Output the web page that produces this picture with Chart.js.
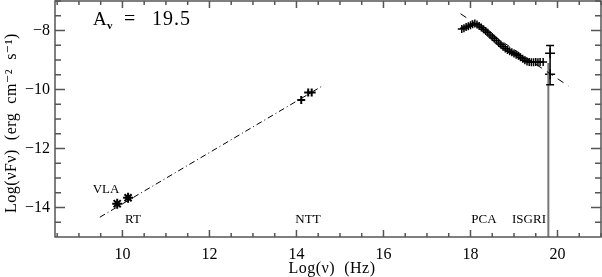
<!DOCTYPE html>
<html>
<head>
<meta charset="utf-8">
<script src="https://cdn.jsdelivr.net/npm/chart.js@4.4.1/dist/chart.umd.min.js"></script>
<style>
  html, body { margin: 0; padding: 0; background: #fff; }
  #wrap { width: 602px; height: 277px; }
</style>
</head>
<body>
<div id="wrap"><canvas id="sedChart"></canvas></div>
<script>
// tick labels
const xTicks = [10, 12, 14, 16, 18, 20];
const yTicks = [-14, -12, -10, -8];

// radio (VLA / RT)
const radioX = [9.88, 10.13];
const radioY = [-13.87, -13.67];

// infrared (NTT)
const nttX = [14.11, 14.27, 14.35];
const nttY = [-10.36, -10.10, -10.10];

// X-ray (PCA)
const pcaX = [17.80, 17.85, 17.90, 17.95, 18.00, 18.05, 18.10, 18.15, 18.20, 18.25,
              18.30, 18.35, 18.40, 18.45, 18.50, 18.55, 18.60, 18.65, 18.70, 18.75,
              18.80, 18.85, 18.90, 18.95, 19.00, 19.05, 19.10, 19.15, 19.20, 19.25,
              19.30, 19.35, 19.40, 19.45, 19.50, 19.55, 19.60, 19.67];
const pcaY = [-7.95, -7.92, -7.88, -7.86, -7.82, -7.79, -7.76, -7.80, -7.85, -7.90,
              -7.96, -8.02, -8.08, -8.15, -8.22, -8.28, -8.35, -8.42, -8.48, -8.55,
              -8.61, -8.66, -8.70, -8.74, -8.78, -8.82, -8.86, -8.91, -8.96, -9.01,
              -9.05, -9.07, -9.08, -9.08, -9.07, -9.08, -9.07, -9.07];

// gamma (ISGRI) with error bars
const isgriX = [19.83, 19.83];
const isgriY = [-8.77, -9.48];
const isgriHi = [-8.51, null];
const isgriLo = [-9.84, null];

// ISGRI limit bar (gray)
const limitX = [19.79, 19.79];
const limitY = [-9.10, -15];

// power-law fits
const radioFitX = [9.48, 14.63];
const radioFitY = [-14.33, -9.85];
const xrayFitX = [17.77, 20.26];
const xrayFitY = [-7.43, -9.89];

const pts = (xs, ys) => xs.map((x, i) => ({ x, y: ys[i] }));
const serif = "'Liberation Serif', 'DejaVu Serif', serif";

const sedDecor = {
    id: "sedDecor",
    afterDatasetsDraw(chart) {
        const { ctx, scales: { x, y } } = chart;
        ctx.save();
        ctx.strokeStyle = "#000";
        ctx.lineWidth = 1.5;
        isgriX.forEach((v, i) => {
            if (isgriHi[i] == null) return;
            const px = x.getPixelForValue(v);
            const top = y.getPixelForValue(isgriHi[i]);
            const bot = y.getPixelForValue(isgriLo[i]);
            ctx.beginPath();
            ctx.moveTo(px, top); ctx.lineTo(px, bot);
            ctx.moveTo(px - 4, top); ctx.lineTo(px + 4, top);
            ctx.moveTo(px - 4, bot); ctx.lineTo(px + 4, bot);
            ctx.stroke();
        });
        ctx.restore();
    },
    afterDraw(chart) {
        const { ctx, chartArea: a, scales: { x, y } } = chart;
        ctx.save();
        ctx.strokeStyle = "#555";
        ctx.lineWidth = 1.5;
        ctx.strokeRect(a.left, a.top, a.right - a.left, a.bottom - a.top);

        ctx.beginPath();
        for (let v = 8.5; v <= 21; v += 0.5) {
            const px = x.getPixelForValue(v);
            const len = Number.isInteger(v / 2) ? 7 : 4;
            ctx.moveTo(px, a.bottom); ctx.lineTo(px, a.bottom - len);
            ctx.moveTo(px, a.top); ctx.lineTo(px, a.top + len);
        }
        for (let v = -14.5; v <= -7; v += 0.5) {
            const py = y.getPixelForValue(v);
            const len = Number.isInteger(v / 2) ? 10 : 6;
            ctx.moveTo(a.left, py); ctx.lineTo(a.left + len, py);
            ctx.moveTo(a.right, py); ctx.lineTo(a.right - len, py);
        }
        ctx.stroke();

        ctx.fillStyle = "#000";
        ctx.textBaseline = "alphabetic";
        ctx.textAlign = "left";
        ctx.font = "19px " + serif;
        ctx.fillText("A", 93, 25);
        ctx.font = "bold 11px " + serif;
        ctx.fillText("v", 107, 29);
        ctx.font = "20px " + serif;
        ctx.fillText("=", 124, 25);
        ctx.letterSpacing = "1px";
        ctx.fillText("19.5", 152, 25);

        ctx.letterSpacing = "0px";
        ctx.font = "13px " + serif;
        ctx.textAlign = "center";
        ctx.fillText("VLA", 106, 193);
        ctx.fillText("RT", 133, 223);
        ctx.fillText("NTT", 308, 223);
        ctx.fillText("PCA", 484, 223);
        ctx.fillText("ISGRI", 529, 223);

        ctx.font = "16px " + serif;
        ctx.letterSpacing = "0.5px";
        ctx.fillText("Log(\u03bd)  (Hz)", 332, 273);

        ctx.translate(16, 123);
        ctx.rotate(-Math.PI / 2);
        ctx.fillText("Log(\u03bdF\u03bd)  (erg  cm\u207b\u00b2  s\u207b\u00b9)", 0, 0);
        ctx.restore();
    }
};

new Chart(document.getElementById("sedChart"), {
    type: "scatter",
    data: {
        datasets: [
            {
                type: "line",
                data: pts(radioFitX, radioFitY),
                borderColor: "#000",
                borderWidth: 1,
                borderDash: [6, 3, 1, 3],
                pointRadius: 0,
            },
            {
                type: "line",
                data: pts(xrayFitX, xrayFitY),
                borderColor: "#000",
                borderWidth: 1,
                borderDash: [7, 6],
                pointRadius: 0,
            },
            {
                type: "line",
                data: pts(limitX, limitY),
                borderColor: "#777",
                borderWidth: 2,
                pointRadius: 0,
            },
            {
                data: pts(radioX, radioY),
                pointStyle: "star",
                pointRadius: 5,
                borderWidth: 2,
                borderColor: "#000",
                backgroundColor: "#000",
            },
            {
                data: pts(nttX, nttY),
                pointStyle: "cross",
                pointRadius: 4,
                borderWidth: 2,
                borderColor: "#000",
            },
            {
                data: pts(pcaX, pcaY),
                pointStyle: "cross",
                pointRadius: 4,
                borderWidth: 1.5,
                borderColor: "#000",
            },
            {
                data: pts(isgriX, isgriY),
                pointStyle: "cross",
                pointRadius: 5,
                borderWidth: 1.5,
                borderColor: "#000",
            },
        ]
    },
    options: {
        responsive: true,
        maintainAspectRatio: false,
        animation: false,
        layout: { autoPadding: false, padding: { top: 1, right: 1, left: 0, bottom: 0 } },
        plugins: { legend: { display: false }, tooltip: { enabled: false } },
        scales: {
            x: {
                type: "linear",
                min: 8.45,
                max: 21,
                afterBuildTicks: s => { s.ticks = xTicks.map(v => ({ value: v })); },
                afterFit: s => { s.height = 40; s.paddingLeft = 0; s.paddingRight = 0; },
                grid: { display: false, drawTicks: false },
                border: { display: false },
                ticks: { color: "#000", padding: 8, font: { family: serif, size: 16 } },
            },
            y: {
                min: -15,
                max: -7,
                afterBuildTicks: s => { s.ticks = yTicks.map(v => ({ value: v })); },
                afterFit: s => { s.width = 55; s.paddingTop = 0; s.paddingBottom = 0; },
                grid: { display: false, drawTicks: false },
                border: { display: false },
                ticks: {
                    color: "#000", padding: 5, font: { family: serif, size: 16 },
                    callback: v => String(v).replace("-", "\u2212"),
                },
            },
        }
    },
    plugins: [sedDecor]
});
</script>
</body>
</html>
